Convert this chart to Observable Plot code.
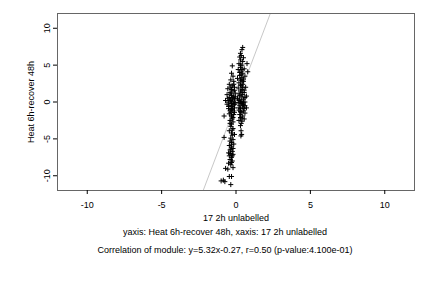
<!DOCTYPE html>
<html>
<head>
<meta charset="utf-8">
<script src="https://cdn.jsdelivr.net/npm/d3@7"></script>
<script src="https://cdn.jsdelivr.net/npm/@observablehq/plot@0.6"></script>
<style>
  body { margin:0; background:#fff; font-family:"Liberation Sans", Arial, sans-serif; }
  #wrap { position:relative; width:432px; height:288px; background:#fff; }
  .cap { position:absolute; left:18px; width:414px; text-align:center; font-size:9px; line-height:14px; color:#000; white-space:nowrap; }
</style>
</head>
<body>
<div id="wrap"></div>
<script>
// Data
const xLabel = "17 2h unlabelled";
const yLabel = "Heat 6h-recover 48h";
const caption1 = "yaxis: Heat 6h-recover 48h, xaxis: 17 2h unlabelled";
const caption2 = "Correlation of module: y=5.32x-0.27, r=0.50 (p-value:4.100e-01)";
const xTicks = [-10, -5, 0, 5, 10];
const yTicks = [-10, -5, 0, 5, 10];
const slope = 5.32;
const intercept = -0.27;

const leftX = [-0.25,-0.3,-0.2,-0.35,-0.15,-0.45,-0.25,-0.1,-0.55,-0.3,-0.2,-0.4,-0.05,-0.6,-0.3,-0.15,-0.45,-0.25,-0.1,-0.7,-0.35,-0.2,-0.5,-0.05,-0.3,-0.6,-0.15,-0.4,-0.25,-0.1,-0.5,-0.3,-0.2,-0.35,-0.45,-0.15,-0.8,-0.3,-0.25,-0.4,-0.2,-0.3,-0.35,-0.2,-0.45,-0.3,-0.25,-0.8,-0.35,-0.2,-0.4,-0.3,-0.15,-0.45,-0.3,-0.2,-0.4,-0.25,-0.5,-0.35,-0.2,-0.45,-0.3,-0.4,-0.25,-0.5,-0.35,-0.2,-0.7,-0.55,-0.3,-0.45,-1.0,-0.85,-0.75,-0.35,
  -0.1,-0.35,-0.2,-0.4,-0.1,-0.25,-0.4,-0.1,-0.3,-0.55,-0.15,-0.35,-0.05,-0.5,-0.3,-0.2,-0.4,-0.25,-0.1,-0.3,-0.35,-0.25,-0.4,-0.3];
const leftY = [4.9,3.9,3.5,3.0,2.8,2.4,2.2,2.0,1.8,1.7,1.5,1.3,1.2,1.0,0.9,0.8,0.6,0.5,0.4,0.2,0.2,0.1,0.0,-0.1,-0.2,-0.3,-0.4,-0.5,-0.6,-0.8,-0.9,-1.0,-1.2,-1.4,-1.6,-1.7,-1.9,-2.0,-2.3,-2.5,-2.7,-3.0,-3.3,-3.6,-3.9,-4.2,-4.5,-4.8,-4.9,-5.1,-5.3,-5.5,-5.7,-5.9,-6.1,-6.3,-6.5,-6.7,-6.9,-7.0,-7.1,-7.3,-7.5,-7.8,-8.0,-8.3,-8.5,-8.9,-9.0,-9.1,-10.1,-10.1,-10.7,-10.6,-10.8,-11.2,
  1.6,1.1,0.6,0.3,-0.3,-0.9,-1.2,-1.4,-1.8,0.5,2.4,2.0,0.7,-0.6,0.0,-2.1,-2.9,-3.8,-4.4,-5.8,-6.4,-7.3,-7.0,-8.2];
const rightX = [0.45,0.4,0.35,0.25,0.5,0.3,0.45,0.2,0.74,0.4,0.3,0.55,0.15,0.79,0.35,0.45,0.25,0.6,0.4,0.1,0.3,0.5,0.2,0.45,0.35,0.65,0.15,0.4,0.3,0.55,0.2,0.45,0.7,0.35,0.1,0.5,0.25,0.4,0.6,0.15,0.35,0.5,0.25,0.45,0.7,0.3,0.2,0.5,0.35,0.6,0.25,0.45,0.3,0.55,0.2,0.4,0.35,0.3,0.34,0.38,0.33,
  0.3,0.25,0.4,0.3,0.55,0.4,0.25,0.6,0.3,0.45,0.55,0.3,0.4,0.5,0.2,0.35,0.3,0.4,0.5,0.6,0.45,0.2];
const rightY = [7.4,7.1,6.3,6.1,6.0,5.7,5.5,5.2,5.2,5.0,4.7,4.5,4.4,4.1,4.2,3.9,3.6,3.5,3.3,3.2,3.0,2.8,2.6,2.4,2.2,2.0,1.9,1.7,1.5,1.3,1.1,1.0,0.8,0.7,0.5,0.4,0.3,0.1,0.0,-0.1,-0.2,-0.4,-0.5,-0.7,-0.8,-0.9,-1.1,-1.2,-1.4,-1.5,-1.7,-1.9,-2.1,-2.3,-2.5,-2.6,-2.9,-3.2,-3.9,-4.4,-4.6,
  6.6,4.0,2.9,2.3,1.6,1.3,0.9,0.6,0.0,-0.3,-0.9,-1.3,-2.2,-0.1,0.2,3.7,5.0,4.4,3.1,-0.5,2.0,-0.8];

const points = leftX.map((x, i) => ({x, y: leftY[i]}))
  .concat(rightX.map((x, i) => ({x, y: rightY[i]})));
const fitLine = [-3, 3].map(x => ({x, y: slope * x + intercept}));

const plusSymbol = {
  draw(ctx, size) {
    const r = 2.5;
    ctx.moveTo(-r, 0); ctx.lineTo(r, 0);
    ctx.moveTo(0, -r); ctx.lineTo(0, r);
  }
};

const chart = Plot.plot({
  width: 432, height: 224,
  marginLeft: 57, marginRight: 18, marginTop: 13, marginBottom: 34,
  x: {domain: [-12, 12]},
  y: {domain: [-12, 12]},
  style: {fontFamily: "'Liberation Sans', Arial, sans-serif", fontSize: "9px", color: "#000", background: "#fff"},
  marks: [
    Plot.line(fitLine, {x: "x", y: "y", stroke: "#c8c8c8", strokeWidth: 1, clip: true}),
    Plot.dot(points, {x: "x", y: "y", symbol: plusSymbol, stroke: "#000", fill: "none", strokeWidth: 1}),
    Plot.frame({stroke: "#666"}),
    Plot.axisX({ticks: xTicks, tickSize: 4, tickPadding: 7, tickFormat: d => d, label: xLabel, labelAnchor: "center", labelArrow: "none", labelOffset: 30}),
    Plot.axisY({ticks: yTicks, tickSize: 4, tickPadding: 4, tickRotate: -90, tickFormat: d => d, label: yLabel, labelAnchor: "center", labelArrow: "none", labelOffset: 30})
  ]
});

const wrap = document.getElementById("wrap");
wrap.appendChild(chart);
for (const [t, top] of [[caption1, 225], [caption2, 243]]) {
  const d = document.createElement("div");
  d.className = "cap";
  d.style.top = top + "px";
  d.textContent = t;
  wrap.appendChild(d);
}
</script>
</body>
</html>
